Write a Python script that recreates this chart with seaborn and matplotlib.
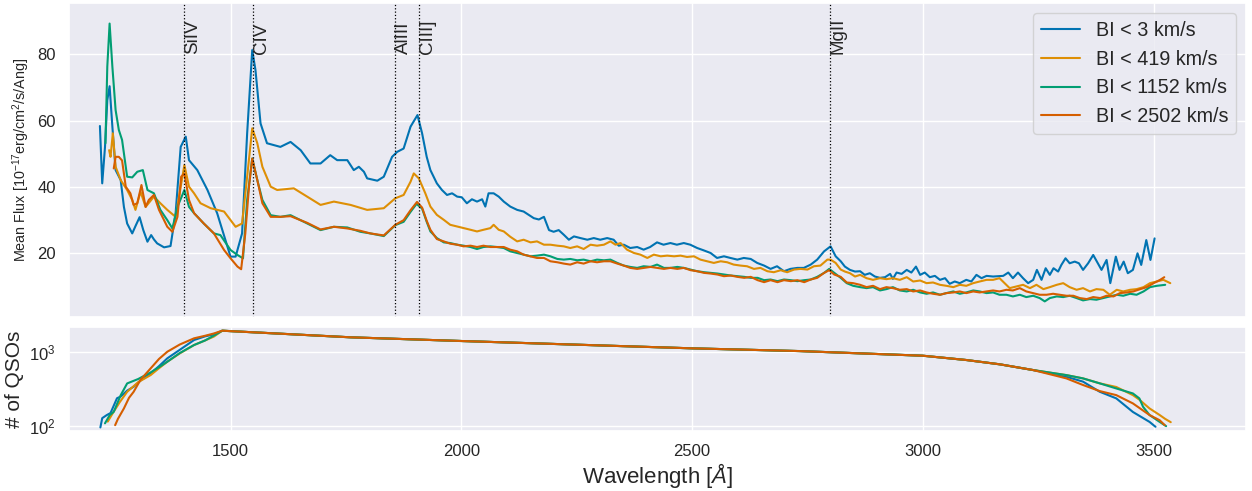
import numpy as np
import pandas as pd
import matplotlib
matplotlib.use("Agg")
import matplotlib.pyplot as plt
import seaborn as sns

# ---- composite spectra: (rest wavelength [A], mean flux) ----
spec_bi3 = [
    (1217, 58.4), (1222, 41.1), (1228, 52.0), (1233, 66.2), (1238, 70.4), (1244, 58.2),
    (1251, 45.1), (1262, 42.1), (1269, 34.0), (1276, 29.0), (1287, 26.0), (1295, 28.5),
    (1303, 30.9), (1311, 27.0), (1320, 23.5), (1328, 25.5), (1334, 24.2), (1341, 23.0),
    (1356, 21.8), (1370, 22.2), (1381, 32.1), (1392, 52.1), (1403, 55.2), (1410, 48.1),
    (1428, 45.1), (1450, 39.1), (1471, 32.1), (1489, 24.0), (1500, 19.0), (1511, 19.0),
    (1525, 26.0), (1536, 56.2), (1547, 81.3), (1554, 75.3), (1565, 59.2), (1579, 53.2),
    (1608, 52.1), (1630, 53.6), (1652, 51.1), (1673, 47.1), (1695, 47.1), (1716, 49.6),
    (1731, 48.1), (1753, 48.1), (1767, 45.1), (1778, 46.1), (1789, 44.6), (1796, 42.6),
    (1818, 41.9), (1832, 43.1), (1850, 49.1), (1861, 50.6), (1875, 51.6), (1890, 58.2),
    (1905, 61.7), (1915, 56.2), (1925, 49.1),
    (1933, 45.1), (1947, 41.1), (1958, 39.1), (1969, 37.6), (1980, 38.1), (1991, 37.1),
    (2001, 36.9), (2012, 35.1), (2023, 36.3), (2034, 35.6), (2045, 36.3), (2052, 34.1),
    (2059, 38.1), (2070, 38.1), (2081, 37.1), (2092, 35.6), (2106, 34.1), (2121, 33.1),
    (2135, 32.6), (2146, 31.6), (2157, 30.6), (2168, 30.2), (2179, 31.0), (2190, 27.0),
    (2200, 26.5), (2211, 27.0), (2222, 25.6), (2233, 24.1), (2244, 25.1), (2258, 24.6),
    (2273, 24.1), (2287, 24.6), (2301, 24.1), (2316, 24.6), (2330, 24.1), (2341, 22.3),
    (2352, 22.6), (2366, 21.6), (2381, 21.9), (2395, 21.1), (2409, 21.9), (2424, 23.3),
    (2438, 22.6), (2453, 23.1), (2467, 22.6), (2482, 23.1), (2496, 22.6), (2511, 21.6),
    (2525, 20.9), (2540, 20.1), (2554, 18.6), (2569, 19.1), (2583, 18.6), (2598, 18.1),
    (2612, 18.6), (2627, 18.3), (2641, 17.1), (2656, 16.3), (2670, 15.3), (2684, 16.1),
    (2699, 14.6), (2713, 15.3), (2728, 15.6), (2742, 15.6), (2757, 16.6), (2771, 18.1),
    (2786, 20.6), (2800, 22.1), (2811, 19.1), (2822, 17.6),
    (2831, 16.0), (2842, 15.0), (2853, 14.5), (2864, 14.6), (2874, 13.5), (2885, 14.0),
    (2896, 13.0), (2907, 12.6), (2918, 12.8), (2929, 13.8), (2935, 12.3), (2943, 14.2),
    (2954, 13.8), (2965, 15.0), (2975, 14.2), (2985, 16.0), (2994, 13.5), (3004, 14.2),
    (3015, 12.8), (3026, 13.2), (3037, 12.0), (3048, 12.5), (3058, 10.8), (3069, 11.5),
    (3080, 11.0), (3094, 12.0), (3105, 11.5), (3116, 13.5), (3127, 12.5), (3138, 13.2),
    (3152, 13.0), (3174, 13.2), (3185, 14.2), (3195, 12.5), (3206, 14.2), (3217, 12.5),
    (3228, 11.0), (3239, 12.0), (3247, 15.0), (3257, 12.0), (3266, 15.5), (3275, 13.5),
    (3283, 15.5), (3293, 14.5), (3300, 16.5), (3309, 18.5), (3318, 17.0), (3329, 17.5),
    (3338, 17.0), (3347, 15.0), (3358, 17.0), (3369, 19.5), (3377, 17.5), (3387, 15.0),
    (3398, 18.0), (3406, 11.0), (3418, 19.0), (3426, 15.0), (3435, 17.5), (3444, 14.0),
    (3455, 15.0), (3465, 20.0), (3473, 16.5), (3484, 24.0), (3493, 18.0), (3502, 24.5),
]

spec_bi419 = [
    (1237, 51.1), (1240, 49.1), (1245, 56.2), (1251, 46.1), (1262, 42.1), (1276, 39.1),
    (1287, 36.1), (1294, 33.1), (1305, 38.6), (1316, 34.0), (1334, 37.1), (1348, 35.1),
    (1363, 33.1), (1381, 31.0), (1392, 40.1), (1400, 46.6), (1410, 40.1), (1421, 38.1),
    (1435, 35.1), (1457, 33.6), (1486, 32.6), (1500, 30.0), (1511, 28.0), (1525, 29.0),
    (1536, 43.1), (1547, 57.7), (1558, 53.2), (1569, 46.1), (1587, 40.1), (1601, 39.1),
    (1637, 39.6), (1666, 37.1), (1695, 34.6), (1724, 35.6), (1760, 34.6), (1796, 33.1),
    (1832, 33.6), (1857, 36.6), (1875, 37.6), (1890, 41.6), (1897, 44.1), (1908, 42.6),
    (1922, 38.1),
    (1933, 34.1), (1947, 31.6), (1962, 30.1), (1976, 28.6), (1991, 28.1), (2005, 27.6),
    (2020, 27.1), (2034, 26.6), (2048, 27.1), (2063, 27.6), (2070, 28.6), (2081, 27.1),
    (2092, 26.6), (2106, 25.0), (2121, 23.6), (2135, 24.1), (2150, 23.3), (2164, 23.6),
    (2179, 22.6), (2193, 22.6), (2208, 22.3), (2222, 22.1), (2236, 21.6), (2251, 22.1),
    (2265, 21.3), (2280, 22.6), (2294, 22.3), (2309, 22.6), (2323, 23.6), (2334, 22.6),
    (2345, 23.1), (2359, 21.1), (2374, 20.1), (2388, 19.6), (2403, 18.6), (2417, 19.6),
    (2432, 19.1), (2446, 19.3), (2461, 19.1), (2475, 19.3), (2489, 18.9), (2504, 19.1),
    (2518, 18.1), (2533, 17.6), (2547, 17.1), (2562, 17.6), (2576, 17.3), (2590, 16.6),
    (2605, 16.3), (2619, 16.1), (2634, 15.3), (2648, 15.6), (2663, 14.6), (2677, 14.3),
    (2692, 14.9), (2706, 14.3), (2721, 15.1), (2735, 15.3), (2750, 15.1), (2764, 16.1),
    (2778, 16.3), (2793, 18.1), (2800, 18.1), (2811, 17.1), (2822, 15.1),
    (2831, 14.5), (2842, 14.0), (2853, 13.0), (2864, 13.5), (2878, 12.5), (2892, 12.0),
    (2907, 12.5), (2921, 12.2), (2935, 12.5), (2950, 12.0), (2965, 12.8), (2979, 11.5),
    (2994, 11.8), (3008, 11.0), (3022, 11.2), (3037, 10.5), (3051, 10.2), (3066, 9.8),
    (3080, 10.5), (3094, 10.2), (3109, 11.0), (3123, 11.5), (3138, 12.0), (3152, 12.0),
    (3166, 12.5), (3177, 11.0), (3188, 9.5), (3203, 10.0), (3217, 10.5), (3232, 9.5),
    (3246, 10.5), (3261, 9.2), (3275, 9.8), (3290, 10.5), (3304, 11.0), (3318, 9.8),
    (3333, 9.0), (3347, 9.5), (3362, 8.5), (3376, 9.2), (3391, 9.0), (3405, 7.5),
    (3420, 9.0), (3434, 8.5), (3449, 9.0), (3463, 9.2), (3478, 9.8), (3492, 11.0),
    (3507, 11.5), (3521, 12.0), (3536, 11.0),
]

spec_bi1152 = [
    (1229, 53.2), (1233, 76.3), (1238, 89.3), (1244, 76.3), (1251, 63.2), (1258, 57.2),
    (1265, 54.2), (1276, 43.1), (1287, 42.9), (1298, 44.6), (1310, 45.1), (1320, 39.1),
    (1334, 38.1), (1348, 33.1), (1363, 30.0), (1374, 27.5), (1385, 34.0), (1400, 39.1),
    (1410, 34.0), (1421, 32.1), (1442, 29.0), (1464, 26.0), (1478, 25.5), (1500, 21.0),
    (1515, 19.5), (1527, 18.5), (1536, 36.1), (1547, 48.6), (1558, 42.1), (1569, 36.1),
    (1587, 31.5), (1608, 31.0), (1630, 31.5), (1666, 29.0), (1695, 27.0), (1724, 28.0),
    (1753, 27.8), (1781, 26.5), (1803, 26.0), (1832, 25.2), (1857, 28.5), (1875, 29.5),
    (1890, 32.5), (1903, 34.9), (1915, 33.5), (1925, 29.5),
    (1933, 26.6), (1947, 24.6), (1962, 23.3), (1976, 23.1), (1991, 22.6), (2005, 22.3),
    (2020, 21.9), (2034, 21.3), (2048, 21.9), (2063, 22.1), (2077, 21.9), (2092, 21.6),
    (2106, 20.6), (2121, 20.1), (2135, 19.6), (2150, 19.1), (2164, 19.3), (2179, 19.6),
    (2193, 19.1), (2208, 18.3), (2222, 18.1), (2236, 18.3), (2251, 17.9), (2265, 18.1),
    (2280, 17.6), (2294, 18.1), (2309, 17.9), (2323, 18.1), (2338, 17.1), (2352, 16.3),
    (2366, 15.9), (2381, 15.6), (2395, 16.1), (2410, 15.9), (2424, 16.6), (2439, 15.6),
    (2453, 15.6), (2468, 15.9), (2482, 15.6), (2497, 15.1), (2511, 14.6), (2526, 14.3),
    (2540, 14.1), (2555, 13.9), (2569, 13.6), (2584, 13.3), (2598, 13.1), (2613, 12.9),
    (2627, 12.6), (2642, 12.6), (2656, 11.9), (2670, 12.1), (2685, 11.6), (2699, 12.1),
    (2714, 11.9), (2728, 11.6), (2743, 11.9), (2757, 12.1), (2771, 12.9), (2786, 14.1),
    (2797, 15.3), (2808, 14.1), (2822, 12.6),
    (2835, 11.0), (2849, 10.2), (2864, 9.8), (2878, 9.5), (2892, 9.8), (2907, 8.8),
    (2921, 9.2), (2935, 9.8), (2950, 8.8), (2965, 8.5), (2979, 9.0), (2994, 8.2),
    (3008, 7.8), (3022, 8.2), (3037, 7.5), (3051, 8.0), (3066, 8.5), (3080, 7.8),
    (3094, 8.2), (3109, 8.8), (3123, 8.5), (3138, 8.0), (3152, 8.2), (3166, 7.5),
    (3181, 7.5), (3195, 7.0), (3210, 7.5), (3224, 6.8), (3239, 7.2), (3253, 6.5),
    (3264, 5.5), (3275, 6.5), (3290, 7.0), (3304, 6.8), (3318, 7.2), (3333, 6.5),
    (3347, 5.8), (3362, 6.2), (3376, 6.0), (3391, 6.5), (3405, 7.0), (3420, 7.5),
    (3434, 7.2), (3449, 7.8), (3463, 7.5), (3478, 8.5), (3492, 9.8), (3507, 10.2),
    (3525, 10.5),
]

spec_bi2502 = [
    (1247, 45.6), (1251, 49.1), (1258, 49.1), (1265, 48.0), (1273, 40.1), (1283, 38.1),
    (1290, 34.6), (1298, 35.1), (1307, 40.6), (1316, 34.0), (1323, 36.1), (1334, 37.6),
    (1345, 33.1), (1363, 28.0), (1374, 26.5), (1385, 31.0), (1393, 43.1), (1400, 44.1),
    (1410, 36.1), (1421, 32.1), (1442, 29.0), (1464, 26.0), (1486, 21.0), (1500, 18.5),
    (1515, 16.0), (1523, 15.2), (1532, 26.0), (1540, 40.1), (1547, 48.6), (1558, 42.1),
    (1569, 35.1), (1587, 31.0), (1608, 31.0), (1630, 31.2), (1666, 29.2), (1695, 27.2),
    (1724, 28.0), (1753, 27.5), (1781, 26.8), (1803, 26.0), (1832, 25.4), (1857, 28.6),
    (1875, 30.0), (1890, 33.0), (1904, 35.5), (1915, 33.8), (1925, 29.8),
    (1933, 27.1), (1947, 24.3), (1962, 23.6), (1976, 22.9), (1991, 22.6), (2005, 22.1),
    (2020, 22.3), (2034, 21.9), (2048, 22.3), (2063, 21.9), (2077, 21.9), (2092, 21.9),
    (2106, 21.1), (2121, 20.6), (2135, 19.6), (2150, 19.1), (2164, 18.6), (2179, 18.6),
    (2193, 17.6), (2208, 17.3), (2222, 16.9), (2236, 16.6), (2251, 17.3), (2265, 16.9),
    (2280, 17.6), (2294, 17.3), (2309, 17.6), (2323, 17.6), (2338, 16.9), (2352, 16.3),
    (2366, 15.6), (2381, 15.3), (2395, 15.6), (2410, 15.9), (2424, 15.6), (2439, 15.3),
    (2453, 15.6), (2468, 15.3), (2482, 15.6), (2497, 14.9), (2511, 14.6), (2526, 14.1),
    (2540, 13.9), (2555, 13.6), (2569, 13.1), (2584, 13.3), (2598, 12.9), (2613, 12.6),
    (2627, 12.9), (2642, 11.9), (2656, 11.3), (2670, 11.9), (2685, 11.3), (2699, 11.9),
    (2714, 11.6), (2728, 11.9), (2743, 11.3), (2757, 12.1), (2771, 12.6), (2786, 14.1),
    (2797, 14.9), (2808, 13.6), (2822, 12.9),
    (2835, 11.2), (2849, 11.0), (2864, 10.5), (2878, 9.8), (2892, 10.2), (2907, 9.2),
    (2921, 9.8), (2935, 9.5), (2950, 9.0), (2965, 9.2), (2979, 8.5), (2994, 8.8),
    (3008, 8.2), (3022, 7.8), (3037, 7.5), (3051, 8.0), (3066, 8.2), (3080, 8.5),
    (3094, 8.0), (3109, 8.5), (3123, 8.2), (3138, 8.5), (3152, 8.8), (3166, 8.5),
    (3181, 9.0), (3195, 8.8), (3210, 9.5), (3224, 8.5), (3239, 8.0), (3253, 7.5),
    (3268, 7.5), (3282, 7.8), (3297, 7.5), (3311, 7.2), (3326, 7.2), (3340, 6.5),
    (3355, 6.2), (3369, 6.8), (3384, 6.5), (3398, 7.2), (3413, 7.0), (3427, 8.0),
    (3442, 8.2), (3456, 8.5), (3471, 9.2), (3485, 9.8), (3500, 11.0), (3514, 12.0),
    (3523, 12.8),
]

# ---- number of contributing QSOs: (rest wavelength [A], count) ----
nqso_bi3 = [
    (1218, 96), (1222, 128), (1232, 141), (1240, 150), (1254, 237), (1262, 250),
    (1276, 300), (1290, 338), (1305, 410), (1327, 512), (1345, 640), (1363, 815),
    (1385, 1010), (1421, 1437), (1445, 1610), (1464, 1713), (1482, 1918), (1760, 1563),
    (2000, 1394), (2500, 1111), (2734, 1020), (3000, 884), (3094, 774), (3167, 677),
    (3239, 567), (3311, 461), (3347, 396), (3383, 290), (3419, 236), (3455, 155),
    (3491, 114), (3504, 98),
]
nqso_bi419 = [
    (1234, 115), (1245, 150), (1260, 210), (1276, 289), (1300, 390), (1327, 486),
    (1345, 600), (1363, 734), (1390, 950), (1421, 1231), (1445, 1420), (1464, 1600),
    (1482, 1918), (1760, 1563), (2000, 1394), (2500, 1111), (2734, 1020), (3000, 884),
    (3094, 774), (3167, 677), (3239, 567), (3311, 485), (3347, 438), (3383, 376),
    (3419, 336), (3455, 261), (3469, 227), (3491, 173), (3513, 141), (3525, 125),
    (3537, 113),
]
nqso_bi1152 = [
    (1228, 109), (1238, 140), (1247, 156), (1262, 260), (1276, 375), (1300, 430),
    (1327, 528), (1345, 620), (1363, 734), (1390, 960), (1421, 1231), (1445, 1420),
    (1464, 1650), (1482, 1918), (1760, 1563), (2000, 1394), (2500, 1111), (2734, 1020),
    (3000, 884), (3094, 774), (3167, 677), (3239, 567), (3311, 485), (3347, 438),
    (3383, 376), (3419, 321), (3455, 275), (3469, 236), (3477, 182), (3491, 141),
    (3513, 114), (3527, 100),
]
nqso_bi2502 = [
    (1250, 103), (1256, 125), (1269, 173), (1280, 240), (1290, 289), (1305, 420),
    (1327, 598), (1345, 800), (1363, 1000), (1390, 1250), (1421, 1515), (1445, 1640),
    (1464, 1760), (1482, 1918), (1760, 1563), (2000, 1394), (2500, 1111), (2734, 1020),
    (3000, 884), (3094, 774), (3167, 677), (3239, 567), (3311, 438), (3347, 357),
    (3383, 296), (3419, 261), (3455, 202), (3491, 141), (3513, 120), (3524, 103),
]

labels = ["BI < 3 km/s", "BI < 419 km/s", "BI < 1152 km/s", "BI < 2502 km/s"]
spectra = [spec_bi3, spec_bi419, spec_bi1152, spec_bi2502]
counts = [nqso_bi3, nqso_bi419, nqso_bi1152, nqso_bi2502]

line_names = ["SiIV", "CIV", "AlIII", "CIII]", "MgII"]
line_wl = [1400, 1549, 1857, 1909, 2798]

# ---- long-form tables for seaborn ----
spec_df = pd.concat([pd.DataFrame(s, columns=["wavelength", "flux"]).assign(sample=lab)
                     for s, lab in zip(spectra, labels)], ignore_index=True)
count_df = pd.concat([pd.DataFrame(c, columns=["wavelength", "nqso"]).assign(sample=lab)
                      for c, lab in zip(counts, labels)], ignore_index=True)

sns.set_theme(style="darkgrid")
plt.rcParams["font.family"] = ["Liberation Sans", "DejaVu Sans"]
plt.rcParams["mathtext.fontset"] = "custom"
plt.rcParams["mathtext.rm"] = "Liberation Sans"
plt.rcParams["mathtext.it"] = "Liberation Sans:italic"
plt.rcParams["mathtext.bf"] = "Liberation Sans:bold"

palette = sns.color_palette("colorblind", 4)

fig, (ax1, ax2) = plt.subplots(2, 1, sharex=True, figsize=(12.52, 4.91), dpi=100,
                               gridspec_kw={"height_ratios": [314, 104]})
fig.subplots_adjust(left=0.0551, right=0.9952, top=0.9939, bottom=0.1222,
                    hspace=0.048)

sns.lineplot(data=spec_df, x="wavelength", y="flux", hue="sample",
             hue_order=labels, palette=palette, lw=1.5, ax=ax1, sort=False)
sns.lineplot(data=count_df, x="wavelength", y="nqso", hue="sample",
             hue_order=labels, palette=palette, lw=1.5, ax=ax2, sort=False,
             legend=False)

for name, w in zip(line_names, line_wl):
    ax1.axvline(w, color="black", ls=":", lw=0.9)
    ax1.text(w, 80, name, rotation=90, ha="left", va="bottom", fontsize=13.5)

ax1.set_xlim(1150, 3700)
ax1.set_ylim(0.8, 95.5)
ax1.set_yticks([20, 40, 60, 80])
ax1.set_xlabel("")
ax1.set_ylabel(r"Mean Flux [$10^{-17}$erg/cm$^2$/s/Ang]", fontsize=10.4)
ax1.tick_params(labelsize=12)
leg = ax1.legend(loc="upper right", fontsize=14.2, title=None)
for h in leg.get_lines():
    h.set_linewidth(1.5)

ax2.set_yscale("log")
ax2.set_ylim(86, 2150)
ax2.set_xticks([1500, 2000, 2500, 3000, 3500])
ax2.set_xlabel(r"Wavelength [$\AA$]", fontsize=16, labelpad=1)
ax2.set_ylabel("# of QSOs", fontsize=15)
ax2.tick_params(labelsize=12)
ax2.minorticks_off()

fig.savefig("out.png", dpi=100)
